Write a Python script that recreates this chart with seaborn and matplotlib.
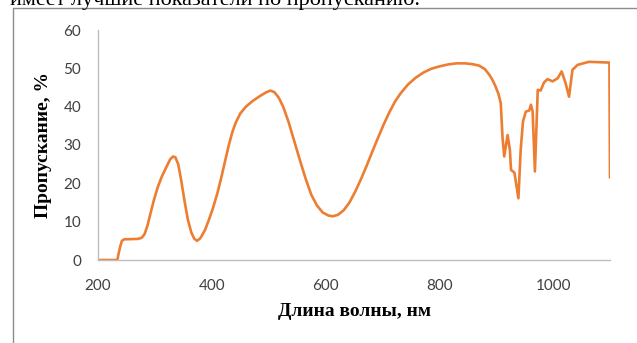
import matplotlib
matplotlib.use("Agg")
import matplotlib.pyplot as plt
from matplotlib.patches import Rectangle
import seaborn as sns
import pandas as pd

# Transmission spectrum
wavelength_nm = [200, 234, 236, 239, 242, 246, 270, 277, 282, 287, 292, 298, 305, 312,
                 320, 327, 332, 336, 341, 346, 352, 358, 364, 369, 374, 380, 388, 395,
                 402, 410, 417, 424, 430, 436, 442, 450, 460, 472, 485, 495, 503, 510,
                 518, 526, 535, 545, 555, 565, 575, 585, 595, 605, 613, 622, 632, 642,
                 652, 662, 672, 682, 692, 702, 712, 722, 732, 745, 758, 772, 786, 800,
                 815, 830, 845, 858, 870, 880, 888, 894, 899, 904, 908, 911, 914, 920,
                 924, 926, 932, 939, 943, 947, 952, 958, 961, 964, 968, 973, 978, 984,
                 990, 999, 1008, 1015, 1022, 1028, 1034, 1043, 1063, 1099, 1100]
transmission_pct = [0, 0, 1.5, 3.5, 5, 5.4, 5.5, 5.8, 6.8, 9, 12, 15.5, 19, 21.7,
                    24.2, 26.3, 27, 26.8, 25, 21, 15.5, 10.5, 7.2, 5.6, 5, 5.7, 7.8, 10.5,
                    13.5, 17.5, 21.7, 26.2, 30, 33.3, 35.8, 38.2, 40, 41.5, 42.8, 43.7, 44.2, 43.8,
                    42.3, 39.8, 36, 31, 26, 21.2, 17, 14.2, 12.4, 11.6, 11.4, 11.8, 13, 15,
                    17.8, 21, 24.5, 28.2, 31.8, 35.3, 38.5, 41.3, 43.5, 45.8, 47.5, 48.9, 49.9, 50.5,
                    51, 51.3, 51.3, 51.1, 50.7, 49.8, 48.3, 46.8, 45.2, 43.3, 40.9, 32.2, 27, 32.6,
                    28.7, 23.5, 22.8, 16.1, 28.7, 36.1, 38.7, 39, 40.5, 38.7, 23.1, 44.4, 44.2, 46.3,
                    47.2, 46.6, 47.4, 49.2, 46.1, 42.6, 49.6, 50.9, 51.7, 51.5, 21.5]

x_ticks = [200, 400, 600, 800, 1000]
y_ticks = [0, 10, 20, 30, 40, 50, 60]

df = pd.DataFrame({"wl": wavelength_nm, "t": transmission_pct})

sns.set_theme(style="white")
plt.rcParams["font.family"] = ["Lato", "DejaVu Sans"]

W, H = 637, 343
fig = plt.figure(figsize=(W / 100, H / 100), dpi=100)
ax = fig.add_axes([98 / W, 1 - 260 / H, (610 - 98) / W, (260 - 30) / H])

sns.lineplot(data=df, x="wl", y="t", ax=ax, color="#ED7D31", linewidth=1.9,
             estimator=None, sort=False)

ax.set_xlim(200, 1100)
ax.set_ylim(0, 60)
ax.set_xticks(x_ticks)
ax.set_yticks(y_ticks)
ax.tick_params(axis="both", length=0, labelsize=11, colors="#404040")
ax.tick_params(axis="x", pad=14)
ax.tick_params(axis="y", pad=12)

for side in ("top", "right"):
    ax.spines[side].set_visible(False)
for side in ("left", "bottom"):
    ax.spines[side].set_color("#BFBFBF")
    ax.spines[side].set_linewidth(1.0)

label_font = dict(family=["Liberation Serif"], fontweight="bold", fontsize=14, color="black")
ax.set_xlabel("Длина волны, нм", labelpad=7, **label_font)
ax.set_ylabel("Пропускание, %", labelpad=8, **label_font)

# Chart frame
fig.patches.append(Rectangle((13 / W, -0.2), 1.2, 1 - 8 / H + 0.2,
                             transform=fig.transFigure, fill=False,
                             edgecolor="#8C8C8C", linewidth=1.0))

# Preceding line of text
fig.text(10 / W, 1 - 5 / H, "имеет лучшие показатели по пропусканию.",
         family=["Liberation Serif"], fontsize=16, color="black",
         ha="left", va="baseline")

fig.savefig("out.png", dpi=100)
